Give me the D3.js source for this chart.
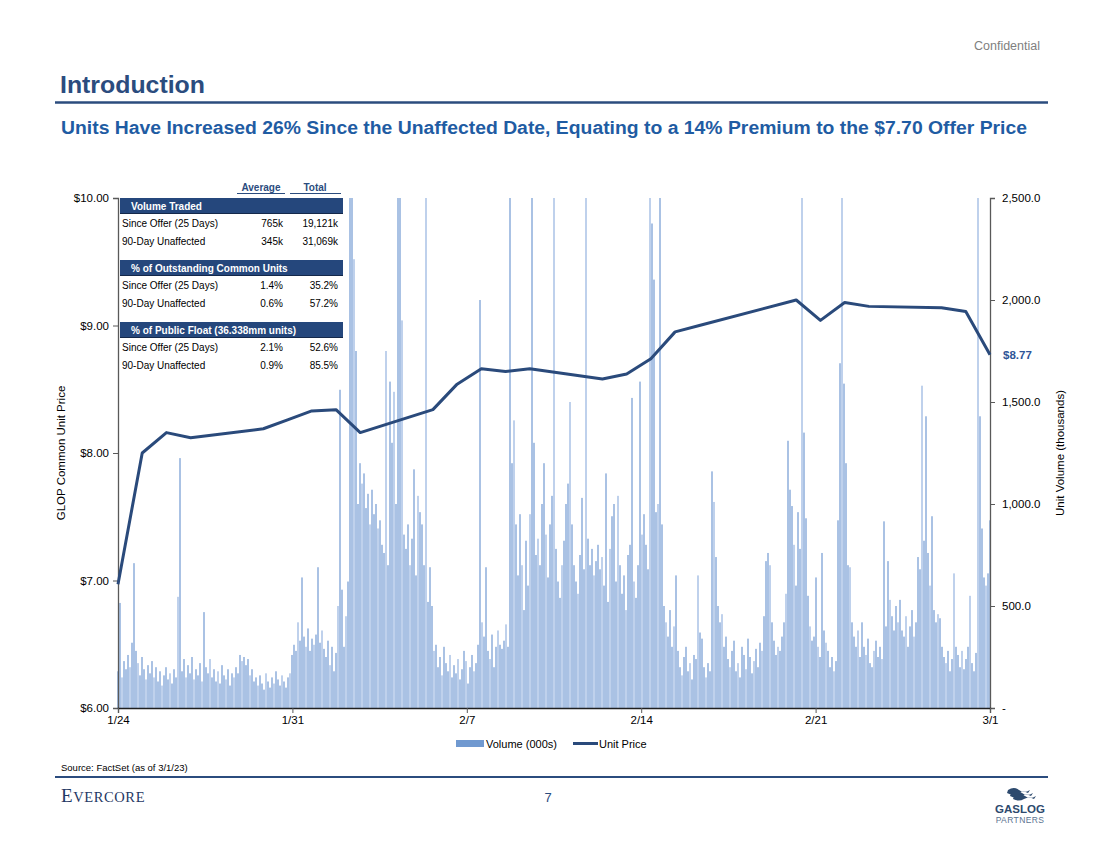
<!DOCTYPE html>
<html>
<head>
<meta charset="utf-8">
<script src="https://cdn.jsdelivr.net/npm/d3@7"></script>
<style>
  body { margin: 0; background: #fff; }
  svg { display: block; font-family: Arial, "Liberation Sans", sans-serif; }
</style>
</head>
<body>
<svg id="chart" width="1100" height="849"></svg>
<script>
// ---------------- DATA ----------------
const priceDates = ["2023-01-24","2023-01-25","2023-01-26","2023-01-27","2023-01-30","2023-01-31",
  "2023-02-01","2023-02-02","2023-02-03","2023-02-06","2023-02-07","2023-02-08","2023-02-09","2023-02-10",
  "2023-02-13","2023-02-14","2023-02-15","2023-02-16","2023-02-17","2023-02-21","2023-02-22","2023-02-23",
  "2023-02-24","2023-02-27","2023-02-28","2023-03-01"];
const priceValues = [6.97, 8.00, 8.16, 8.12, 8.19, 8.26, 8.33, 8.34, 8.16, 8.34, 8.54, 8.66, 8.64, 8.66,
  8.58, 8.62, 8.74, 8.95, 9.00, 9.20, 9.04, 9.18, 9.15, 9.14, 9.11, 8.77];

// intraday volume (000s), left to right
const volumeValues = [
  180,515,150,230,190,260,200,320,710,280,
  220,160,250,190,140,210,170,230,150,200,
  130,180,110,160,200,140,170,120,190,150,
  545,1225,180,240,150,210,170,250,140,190,
  160,220,130,470,200,170,240,150,190,130,
  180,120,210,160,140,190,110,170,150,200,
  170,260,230,250,210,240,160,190,130,150,
  110,160,120,90,170,130,100,150,120,180,
  140,110,160,130,100,150,170,260,310,280,
  420,330,640,350,300,390,280,340,310,360,
  690,320,380,290,250,330,210,300,180,270,
  500,1560,580,300,450,620,2700,2650,2200,1750,
  1000,1200,1100,1150,980,1050,900,1070,950,1000,
  880,920,800,760,1750,700,1600,1300,1550,1000,
  2700,2600,1900,850,780,900,700,830,1170,650,
  1040,960,900,700,2700,520,690,500,280,310,
  200,250,160,300,220,180,260,150,210,170,
  240,140,190,280,230,120,200,260,180,220,
  310,2000,420,350,690,280,240,360,200,300,
  380,310,290,330,410,300,2700,1200,1410,900,
  650,950,700,480,820,600,950,2700,1300,750,
  830,700,1000,1200,850,640,900,1040,2700,780,
  620,540,700,820,1000,1100,1500,900,700,620,
  560,750,1030,680,2700,830,700,780,650,720,
  800,680,740,600,1150,520,780,940,1000,620,
  1040,700,560,650,480,750,800,1520,620,540,
  700,1600,850,950,800,680,2700,2375,2100,960,
  1000,2700,900,500,420,350,480,300,400,650,
  280,200,160,250,300,180,220,140,260,240,
  650,370,340,200,150,220,180,1160,1010,740,
  500,420,460,300,350,240,200,280,330,180,
  220,150,300,260,190,340,250,170,230,290,
  200,320,280,450,720,760,700,420,330,260,
  300,280,350,420,560,1310,1070,990,800,600,
  960,780,2700,1350,930,550,400,330,350,640,
  300,250,760,380,320,280,200,250,180,230,
  920,1690,2700,1590,1200,700,690,420,350,300,
  380,250,420,300,260,340,220,200,280,330,
  250,300,240,915,400,720,530,450,380,500,
  420,530,380,350,450,300,400,480,350,420,
  740,680,1580,820,1430,760,600,940,480,420,
  460,440,300,250,220,280,180,240,660,300,
  260,200,280,190,240,300,550,220,180,270,
  2700,1430,880,640,600,660,920
];

const xTickLabels = ["1/24","1/31","2/7","2/14","2/21","3/1"];
const priceTicks = [6, 7, 8, 9, 10];
const volumeTicks = [0, 500, 1000, 1500, 2000, 2500];
const lastPriceLabel = "$8.77";

const tableHeaders = ["Average", "Total"];
const tableSections = ["Volume Traded", "% of Outstanding Common Units", "% of Public Float (36.338mm units)"];
const tableRowLabels = ["Since Offer (25 Days)", "90-Day Unaffected"];
const tableAverages = [["765k","345k"], ["1.4%","0.6%"], ["2.1%","0.9%"]];
const tableTotals = [["19,121k","31,069k"], ["35.2%","57.2%"], ["52.6%","85.5%"]];

// ---------------- LAYOUT ----------------
const svg = d3.select("#chart");
const L = 118, R = 990, T = 198, B = 708;
const navy = "#2a4a7b";

// header
svg.append("text").attr("x", 1040).attr("y", 50).attr("text-anchor", "end")
  .attr("font-size", 12.5).attr("fill", "#7f7f7f").text("Confidential");
svg.append("text").attr("x", 60).attr("y", 93).attr("font-size", 24.5).attr("font-weight", "bold")
  .attr("fill", "#2b4c7e").attr("textLength", 145).attr("lengthAdjust", "spacingAndGlyphs").text("Introduction");
svg.append("line").attr("x1", 55).attr("x2", 1048).attr("y1", 102.5).attr("y2", 102.5)
  .attr("stroke", "#2b4c7e").attr("stroke-width", 2.5);
svg.append("text").attr("x", 61).attr("y", 134).attr("font-size", 18).attr("font-weight", "bold")
  .attr("fill", "#1f5ca3").attr("textLength", 966).attr("lengthAdjust", "spacingAndGlyphs")
  .text("Units Have Increased 26% Since the Unaffected Date, Equating to a 14% Premium to the $7.70 Offer Price");

// scales
const parse = d3.timeParse("%Y-%m-%d");
const x = d3.scaleTime().domain([parse("2023-01-24"), parse("2023-03-01")]).range([L, R]);
const xTick = d3.scalePoint().domain(xTickLabels).range([L, R]);
const xBar = d3.scaleLinear().domain([0, volumeValues.length - 1]).range([L, R]);
const yP = d3.scaleLinear().domain([6, 10]).range([B, T]);
const yV = d3.scaleLinear().domain([0, 2500]).range([B, T]);

// clip
svg.append("defs").append("clipPath").attr("id", "plotclip")
  .append("rect").attr("x", L - 2).attr("y", T).attr("width", R - L + 4).attr("height", B - T);

// volume bars
svg.append("g").attr("clip-path", "url(#plotclip)")
  .selectAll("rect").data(volumeValues).join("rect")
  .attr("x", (d, i) => xBar(i) - 0.6)
  .attr("width", 1.2)
  .attr("y", d => yV(d))
  .attr("height", d => B - yV(d))
  .attr("fill", (d, i) => i % 4 === 2 ? "#96b4e0" : "#729ad2");

// axes
const axL = svg.append("g").attr("transform", `translate(${L},0)`)
  .call(d3.axisLeft(yP).tickValues(priceTicks).tickSize(5).tickPadding(4).tickFormat(d => "$" + d3.format(".2f")(d)));
const axR = svg.append("g").attr("transform", `translate(${R},0)`)
  .call(d3.axisRight(yV).tickValues(volumeTicks).tickSize(5).tickPadding(7)
    .tickFormat(d => d === 0 ? "-" : d3.format(",.1f")(d)));
const axB = svg.append("g").attr("transform", `translate(0,${B})`)
  .call(d3.axisBottom(xTick).tickSize(5).tickPadding(3));
[axL, axR, axB].forEach(g => {
  g.select(".domain").attr("stroke", "#595959").attr("stroke-width", 1.3);
  g.selectAll(".tick line").attr("stroke", "#595959");
  g.selectAll(".tick text").attr("font-size", 11.5).attr("fill", "#000").attr("font-family", "Arial, 'Liberation Sans', sans-serif");
});
axB.select(".domain").attr("stroke", "#1f1f1f");

// axis titles
svg.append("text").attr("transform", "translate(65,453) rotate(-90)").attr("text-anchor", "middle")
  .attr("font-size", 11.5).text("GLOP Common Unit Price");
svg.append("text").attr("transform", "translate(1064,453) rotate(-90)").attr("text-anchor", "middle")
  .attr("font-size", 11.5).text("Unit Volume (thousands)");

// price line
const pts = priceDates.map((d, i) => [parse(d), priceValues[i]]);
svg.append("path").datum(pts)
  .attr("d", d3.line().x(d => x(d[0])).y(d => yP(d[1])))
  .attr("fill", "none").attr("stroke", navy).attr("stroke-width", 3).attr("stroke-linejoin", "round");
svg.append("text").attr("x", R + 13).attr("y", yP(priceValues[priceValues.length - 1]) + 4)
  .attr("font-size", 11.5).attr("font-weight", "bold").attr("fill", "#2f5597").text(lastPriceLabel);

// table
const tbl = svg.append("g");
const colAvgRight = 283, colTotRight = 338;
tbl.append("text").attr("x", 261).attr("y", 190.5).attr("text-anchor", "middle").attr("font-size", 10)
  .attr("font-weight", "bold").attr("fill", "#2b4c7e").text(tableHeaders[0]);
tbl.append("text").attr("x", 315).attr("y", 190.5).attr("text-anchor", "middle").attr("font-size", 10)
  .attr("font-weight", "bold").attr("fill", "#2b4c7e").text(tableHeaders[1]);
tbl.append("line").attr("x1", 237).attr("x2", 285).attr("y1", 193.5).attr("y2", 193.5).attr("stroke", "#2b4c7e").attr("stroke-width", 1.2);
tbl.append("line").attr("x1", 290).attr("x2", 341).attr("y1", 193.5).attr("y2", 193.5).attr("stroke", "#2b4c7e").attr("stroke-width", 1.2);
tableSections.forEach((s, k) => {
  const y0 = 198 + k * 62;
  tbl.append("rect").attr("x", 120).attr("y", y0).attr("width", 223).attr("height", 16).attr("fill", "#25477c");
  tbl.append("line").attr("x1", 120).attr("x2", 343).attr("y1", y0 + 15.5).attr("y2", y0 + 15.5).attr("stroke", "#14284a").attr("stroke-width", 1);
  tbl.append("text").attr("x", 131).attr("y", y0 + 11.5).attr("font-size", 10).attr("font-weight", "bold")
    .attr("fill", "#fff").text(s);
  tableRowLabels.forEach((r, j) => {
    const yy = y0 + 29 + j * 17.5;
    tbl.append("text").attr("x", 122).attr("y", yy).attr("font-size", 10).text(r);
    tbl.append("text").attr("x", colAvgRight).attr("y", yy).attr("text-anchor", "end").attr("font-size", 10).text(tableAverages[k][j]);
    tbl.append("text").attr("x", colTotRight).attr("y", yy).attr("text-anchor", "end").attr("font-size", 10).text(tableTotals[k][j]);
  });
});

// legend
const lg = svg.append("g");
lg.append("rect").attr("x", 456).attr("y", 740).attr("width", 28).attr("height", 7).attr("fill", "#7099d0");
lg.append("text").attr("x", 486).attr("y", 748).attr("font-size", 11).text("Volume (000s)");
lg.append("line").attr("x1", 573).attr("x2", 598).attr("y1", 743.5).attr("y2", 743.5).attr("stroke", navy).attr("stroke-width", 3);
lg.append("text").attr("x", 599).attr("y", 748).attr("font-size", 11).text("Unit Price");

// footer
svg.append("text").attr("x", 61).attr("y", 771).attr("font-size", 9.5).text("Source: FactSet (as of 3/1/23)");
svg.append("line").attr("x1", 55).attr("x2", 1048).attr("y1", 777).attr("y2", 777)
  .attr("stroke", "#2b4c7e").attr("stroke-width", 2);
const ev = svg.append("text").attr("x", 61).attr("y", 802).attr("font-family", "'Liberation Serif', 'DejaVu Serif', serif")
  .attr("fill", "#1f3864").attr("letter-spacing", 0.6);
ev.append("tspan").attr("font-size", 19).text("E");
ev.append("tspan").attr("font-size", 14.5).text("VERCORE");
svg.append("text").attr("x", 548).attr("y", 802).attr("text-anchor", "middle").attr("font-size", 13)
  .attr("fill", "#2b4c7e").text("7");

// GasLog logo
const gl = svg.append("g").attr("fill", "#2d4a6e");
[0, 1, 2].forEach(k => {
  gl.append("path").attr("d", `M${1008 + k * 3},${790 + k * 3} q6,-4 11,0 t11,0 l-2,3 q-5,-3 -10,0 t-11,0 z`);
});
svg.append("text").attr("x", 1020).attr("y", 813).attr("text-anchor", "middle").attr("font-size", 11.5)
  .attr("font-weight", "bold").attr("fill", "#2d4a6e").text("GASLOG");
svg.append("text").attr("x", 1020).attr("y", 823).attr("text-anchor", "middle").attr("font-size", 8.5)
  .attr("fill", "#5a7390").attr("letter-spacing", 0.4).text("PARTNERS");
</script>
</body>
</html>
